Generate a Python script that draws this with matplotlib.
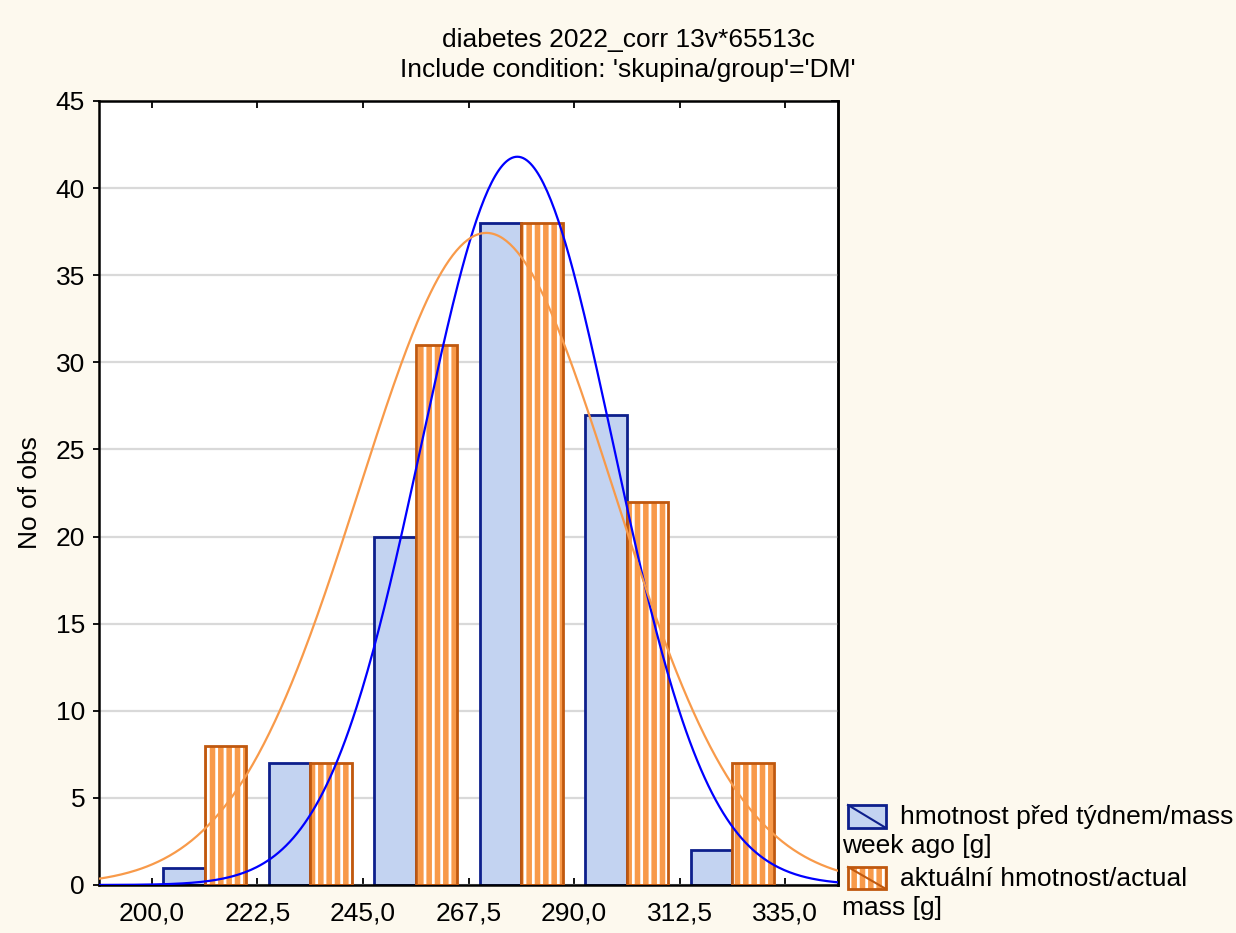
import numpy as np
import matplotlib
matplotlib.use("Agg")
import matplotlib.pyplot as plt
from matplotlib.patches import Rectangle
from matplotlib.lines import Line2D

plt.rcParams['font.family'] = ['Liberation Sans', 'DejaVu Sans']
plt.rcParams['hatch.linewidth'] = 4.0

# bin centres (width 22.5) and counts
centres = [211.25, 233.75, 256.25, 278.75, 301.25, 323.75]
before = [1, 7, 20, 38, 27, 2]       # hmotnost pred tydnem
actual = [8, 7, 31, 38, 22, 7]       # aktualni hmotnost
ticks = [200.0, 222.5, 245.0, 267.5, 290.0, 312.5, 335.0]

# fitted normal curves (mean, sd, n)
fit_before = (277.9, 20.4, 95)
fit_actual = (271.3, 27.1, 113)
binw = 22.5

bg = '#fdf9ee'
navy = '#0d1f8c'
lightblue = '#c3d3f1'
orange = '#f89a4a'
dorange = '#c0580e'
fs = 19

fig = plt.figure(figsize=(12.36, 9.33), dpi=100, facecolor=bg)
ax = fig.add_axes([99/1236, 1-885/933, (838-99)/1236, (885-101)/933])
ax.set_facecolor('white')

w = 8.85
xb = np.array(centres) - w/2
xa = np.array(centres) + w/2
ax.bar(xb, before, width=w, color=lightblue, edgecolor=navy, linewidth=2, zorder=2)
ax.bar(xa, actual, width=w, color='white', edgecolor=orange, hatch='||', linewidth=0, zorder=2)
ax.bar(xa, actual, width=w, fill=False, edgecolor=dorange, linewidth=2, zorder=3)

xs = np.linspace(188.75, 346.25, 400)
for (m, s, n), c in [(fit_before, '#0000ff'), (fit_actual, orange)]:
    ys = n * binw / (s * np.sqrt(2*np.pi)) * np.exp(-0.5*((xs-m)/s)**2)
    ax.plot(xs, ys, color=c, lw=1.6, zorder=4)

ax.set_xlim(188.75, 346.25)
ax.set_ylim(0, 45)
ax.set_xticks(ticks)
ax.set_xticklabels([f"{t:.1f}".replace('.', ',') for t in ticks])
ax.set_yticks(range(0, 46, 5))
ax.yaxis.grid(True, color='#d9d9d9', lw=1.6, zorder=0)
ax.set_axisbelow(True)
ax.tick_params(axis='x', direction='in', top=True, length=5, width=1.3, labelsize=fs, pad=12)
ax.tick_params(axis='y', direction='out', length=4, width=1.3, labelsize=fs, pad=6)
sec = ax.secondary_yaxis('right')
sec.set_yticks(range(0, 46, 5))
sec.tick_params(direction='in', length=5, width=1.3, labelright=False)
for sp in ax.spines.values():
    sp.set_linewidth(1.8)
sec.spines['right'].set_linewidth(1.8)
ax.set_ylabel('No of obs', fontsize=fs, labelpad=10)

fig.text(0.508, 1-40/933, 'diabetes 2022_corr 13v*65513c', ha='center', va='center', fontsize=fs)
fig.text(0.508, 1-70/933, "Include condition: 'skupina/group'='DM'", ha='center', va='center', fontsize=fs)

# legend drawn by hand (text wraps under the swatch)
W, H = 1236, 933
def swatch(x0, y0, x1, y1, face, edge, hatch=None, hcol=None):
    if hatch:
        fig.patches.append(Rectangle((x0/W, 1-y1/H), (x1-x0)/W, (y1-y0)/H, transform=fig.transFigure,
                                     facecolor=face, edgecolor=hcol, hatch=hatch, lw=0))
        face = 'none'
    fig.patches.append(Rectangle((x0/W, 1-y1/H), (x1-x0)/W, (y1-y0)/H, transform=fig.transFigure,
                                 facecolor=face, edgecolor=edge, lw=2))
    fig.lines.append(Line2D([x0/W, x1/W], [1-y0/H, 1-y1/H], transform=fig.transFigure, color=edge, lw=1.5))

swatch(848, 805, 886, 828, lightblue, navy)
swatch(848, 867, 886, 889, 'white', dorange, hatch='||', hcol=orange)
fig.text(900/W, 1-817/H, 'hmotnost před týdnem/mass', va='center', fontsize=fs)
fig.text(842/W, 1-846/H, 'week ago [g]', va='center', fontsize=fs)
fig.text(900/W, 1-879/H, 'aktuální hmotnost/actual', va='center', fontsize=fs)
fig.text(842/W, 1-908/H, 'mass [g]', va='center', fontsize=fs)

fig.savefig('out.png', dpi=100, facecolor=bg)
